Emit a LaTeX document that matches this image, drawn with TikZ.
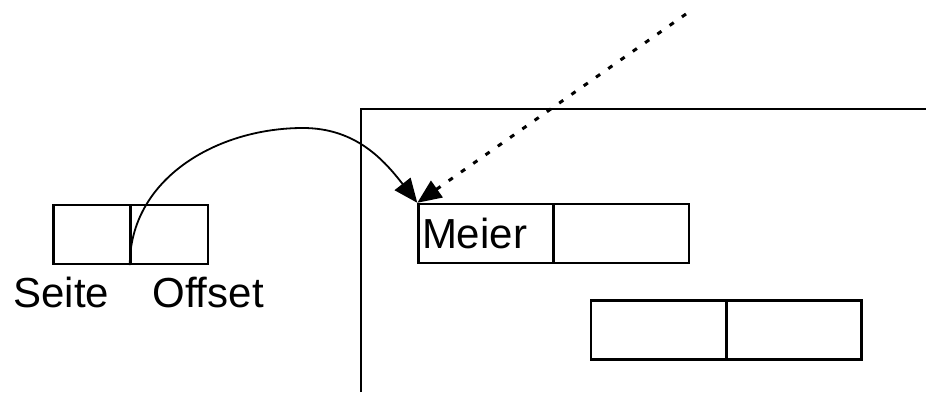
\documentclass[tikz,border=0pt]{standalone}
\usepackage{fontspec}
\setmainfont{Liberation Sans}
\usetikzlibrary{arrows.meta}

\begin{document}
\begin{tikzpicture}[x=0.5pt, y=0.5pt,
    cell/.style ={draw, line width=1.2pt, inner sep=0pt, minimum height=29.5pt},
    small/.style ={cell, minimum width=38.5pt},
    wide/.style ={cell, minimum width=67.5pt},
    label/.style ={font=\fontsize{21pt}{25pt}\selectfont, inner sep=0pt, anchor=base west},
    pointer/.style ={-{Triangle[length=12pt,width=10pt]}}]
   \useasboundingbox (0,0) rectangle (926,392);
   % page frame
   \draw[line width=1.2pt] (361,0) -- (361,283) -- (926,283);
   % logical address
   \node[small] (seite)  at (92,157.5)  {};
   \node[small] (offset) at (169.5,157.5)  {};
   \node[label] (seitelabel)  at (13,85)  {Seite};
   \node[label] (offsetlabel) at (152,85)  {Offset};
   % records in the page
   \node[wide, text width=64pt, align=left, font=\fontsize{21pt}{25pt}\selectfont] (meier) at (486,158.5)  {Meier};
   \node[wide] (meierrest) at (621.5,158.5)  {};
   \node[wide] (rec)     at (658.5,62)  {};
   \node[wide] (recrest) at (794,62)  {};
   \coordinate (top) at (303,264);
   \coordinate (far) at (686,378);
   \draw[line width=0.9pt, pointer] (offset.south west) to[out=90,in=180] (top)
      to[out=0,in=128] (meier.north west);
   \draw[line width=1.5pt, dash pattern=on 2.5pt off 5pt, pointer] (far) -- (meier.north west);
\end{tikzpicture}
\end{document}
